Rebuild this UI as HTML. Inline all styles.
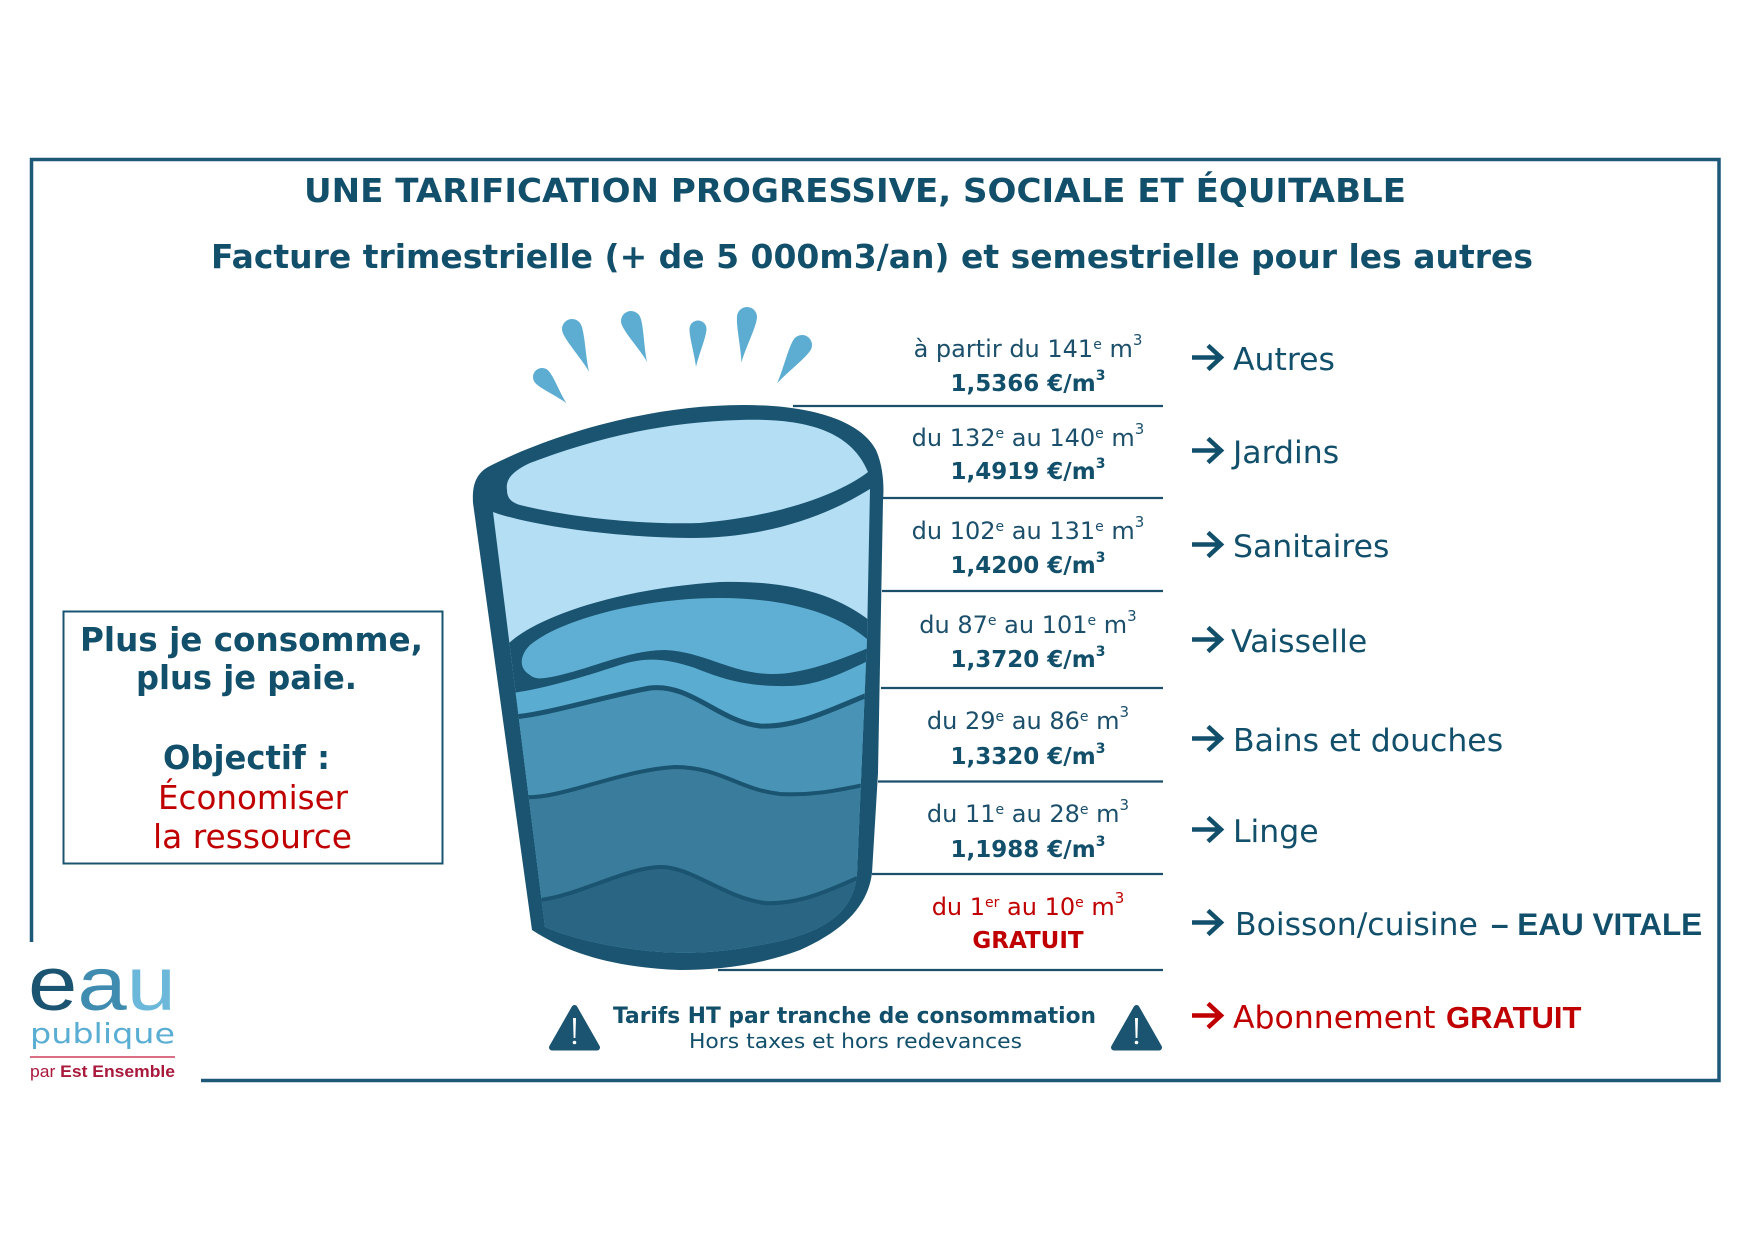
<!DOCTYPE html>
<html><head><meta charset="utf-8"><style>
html,body{margin:0;padding:0;background:#fff;}
svg{display:block;}
.t{font-family:"DejaVu Sans",sans-serif;}
.lb{font-family:"Liberation Sans",sans-serif;font-weight:bold;}
</style></head><body>
<svg width="1754" height="1240" viewBox="0 0 1754 1240" xmlns="http://www.w3.org/2000/svg">
<rect width="1754" height="1240" fill="#fff"/>
<!-- frame -->
<g stroke="#1d5878" stroke-width="3.5" fill="none">
<path d="M31.5,942 V159.5 H1719 V1080.5 H201"/>
</g>
<!-- titles -->
<text class="t" x="304" y="202" font-size="32.5" font-weight="bold" fill="#124f6b" textLength="1102" lengthAdjust="spacingAndGlyphs">UNE TARIFICATION PROGRESSIVE, SOCIALE ET ÉQUITABLE</text>
<text class="t" x="211" y="268" font-size="33" font-weight="bold" fill="#124f6b" textLength="1322" lengthAdjust="spacingAndGlyphs">Facture trimestrielle (+ de 5 000m3/an) et semestrielle pour les autres</text>

<!-- left box -->
<rect x="63.5" y="611.5" width="379" height="252" fill="none" stroke="#1b5470" stroke-width="2"/>
<g class="t" font-size="32.5">
<text x="80" y="651" font-weight="bold" fill="#124f6b" textLength="343" lengthAdjust="spacingAndGlyphs">Plus je consomme,</text>
<text x="136" y="689" font-weight="bold" fill="#124f6b" textLength="221" lengthAdjust="spacingAndGlyphs">plus je paie.</text>
<text x="163" y="769" font-weight="bold" fill="#124f6b" textLength="167" lengthAdjust="spacingAndGlyphs">Objectif :</text>
<text x="158" y="809" fill="#c00000" textLength="190" lengthAdjust="spacingAndGlyphs">Économiser</text>
<text x="153" y="848" fill="#c00000" textLength="199" lengthAdjust="spacingAndGlyphs">la ressource</text>
</g>

<!-- drops -->
<g fill="#5dadd3">
<path transform="translate(542,377) rotate(-43)" d="M0,36 C2,24 9,8 9,0 A9,9 0 0 0 -9,0 C-9,8 -2,24 0,36 Z"/>
<path transform="translate(572,329) rotate(-21.8)" d="M0,46 C2,32 10,10 10,0 A10,10 0 0 0 -10,0 C-10,10 -2,32 0,46 Z"/>
<path transform="translate(631,321) rotate(-21.5)" d="M0,44 C2,30 10,10 10,0 A10,10 0 0 0 -10,0 C-10,10 -2,30 0,44 Z"/>
<path transform="translate(698,329) rotate(3)" d="M0,38 C2,26 8.5,8 8.5,0 A8.5,8.5 0 0 0 -8.5,0 C-8.5,8 -2,26 0,38 Z"/>
<path transform="translate(747,317) rotate(7)" d="M0,46 C2,32 10,10 10,0 A10,10 0 0 0 -10,0 C-10,10 -2,32 0,46 Z"/>
<path transform="translate(802,345) rotate(33)" d="M0,46 C2,32 10,10 10,0 A10,10 0 0 0 -10,0 C-10,10 -2,32 0,46 Z"/>
</g>

<!-- glass -->
<defs>
<clipPath id="inner">
<path d="M493,512 C523,523 600,537 690,538 C760,538 820,520 870,489 L867,640 L857,873 C854,915 820,935 760,945 C720,953 680,955 640,950 C600,945 568,937 545,927 Z"/>
</clipPath>
</defs>
<path fill="#1a5470" d="M473,503 C472,485 476,474 488,467 C540,440 640,405 743,405 C810,405 860,420 876,450 C884,468 884,490 883,500 L878,773 L872,873 C868,905 845,930 800,950 C760,965 720,970 680,970 C620,968 570,955 532,930 Z"/>
<path fill="#b3def4" d="M507,490 C505,478 515,470 530,463 C590,440 660,422 740,420 C800,418 850,428 868,472 C845,490 790,515 700,523 C630,525 560,515 520,505 C510,502 507,497 507,490 Z"/>
<g clip-path="url(#inner)">
<rect x="460" y="480" width="440" height="500" fill="#b3def4"/>
<path fill="#1a5470" d="M470,670 L503,650 C520,625 600,590 720,582 C790,580 840,595 875,625 L900,625 L900,1000 L460,1000 Z"/>
<path fill="#5fafd4" d="M530,675 C518,668 520,655 530,645 C560,620 640,598 720,598 C790,598 840,615 868,640 L868,648 C840,660 800,675 770,674 C730,673 705,652 665,650 C625,650 585,672 545,678 C538,679 533,678 530,675 Z"/>
<path fill="#5aacd1" d="M470,700 L505,694 C540,690 580,678 620,665 C645,657 665,658 695,668 C720,678 745,687 790,686 C820,685 845,672 880,655 L900,655 L900,1000 L460,1000 Z"/>
<path fill="#4994b6" d="M470,720 L513,717 C545,715 610,695 650,688 C690,683 720,722 760,726 C800,728 840,705 880,690 L900,690 L900,1000 L460,1000 Z"/>
<path fill="#3a7c9b" d="M470,795 L523,797 C560,800 620,770 675,767 C720,767 740,790 780,794 C820,796 845,788 880,782 L900,782 L900,1000 L460,1000 Z"/>
<path fill="#2a6584" d="M470,900 L540,900 C580,895 625,868 660,867 C690,866 725,898 765,903 C805,905 840,885 880,868 L900,868 L900,1000 L460,1000 Z"/>
<g fill="none" stroke="#1a5470">
<path stroke-width="5" d="M470,720 L513,717 C545,715 610,695 650,688 C690,683 720,722 760,726 C800,728 840,705 880,690"/>
<path stroke-width="4" d="M470,795 L523,797 C560,800 620,770 675,767 C720,767 740,790 780,794 C820,796 845,788 880,782"/>
<path stroke-width="4" d="M470,900 L540,900 C580,895 625,868 660,867 C690,866 725,898 765,903 C805,905 840,885 880,868"/>
</g>
</g>

<!-- separators -->
<g stroke="#1b4f6b" stroke-width="2.2">
<line x1="793" y1="406" x2="1163" y2="406"/>
<line x1="882" y1="498" x2="1163" y2="498"/>
<line x1="882" y1="591" x2="1163" y2="591"/>
<line x1="881" y1="688" x2="1163" y2="688"/>
<line x1="878" y1="781.5" x2="1163" y2="781.5"/>
<line x1="872" y1="874" x2="1163" y2="874"/>
<line x1="718" y1="970" x2="1163" y2="970"/>
</g>

<!-- price column -->
<g class="t" text-anchor="middle" fill="#1b4f6b">
<text x="1028" y="357" font-size="24">à partir du 141<tspan font-size="14" dy="-8">e</tspan><tspan dy="8"> m</tspan><tspan font-size="15" dy="-12">3</tspan></text>
<text x="1028" y="391" font-size="23" font-weight="bold" fill="#124f6b">1,5366 €/m<tspan font-size="14" dy="-11">3</tspan></text>
<text x="1028" y="446" font-size="24">du 132<tspan font-size="14" dy="-8">e</tspan><tspan dy="8"> au 140</tspan><tspan font-size="14" dy="-8">e</tspan><tspan dy="8"> m</tspan><tspan font-size="15" dy="-12">3</tspan></text>
<text x="1028" y="479" font-size="23" font-weight="bold" fill="#124f6b">1,4919 €/m<tspan font-size="14" dy="-11">3</tspan></text>
<text x="1028" y="539" font-size="24">du 102<tspan font-size="14" dy="-8">e</tspan><tspan dy="8"> au 131</tspan><tspan font-size="14" dy="-8">e</tspan><tspan dy="8"> m</tspan><tspan font-size="15" dy="-12">3</tspan></text>
<text x="1028" y="573" font-size="23" font-weight="bold" fill="#124f6b">1,4200 €/m<tspan font-size="14" dy="-11">3</tspan></text>
<text x="1028" y="633" font-size="24">du 87<tspan font-size="14" dy="-8">e</tspan><tspan dy="8"> au 101</tspan><tspan font-size="14" dy="-8">e</tspan><tspan dy="8"> m</tspan><tspan font-size="15" dy="-12">3</tspan></text>
<text x="1028" y="667" font-size="23" font-weight="bold" fill="#124f6b">1,3720 €/m<tspan font-size="14" dy="-11">3</tspan></text>
<text x="1028" y="729" font-size="24">du 29<tspan font-size="14" dy="-8">e</tspan><tspan dy="8"> au 86</tspan><tspan font-size="14" dy="-8">e</tspan><tspan dy="8"> m</tspan><tspan font-size="15" dy="-12">3</tspan></text>
<text x="1028" y="764" font-size="23" font-weight="bold" fill="#124f6b">1,3320 €/m<tspan font-size="14" dy="-11">3</tspan></text>
<text x="1028" y="822" font-size="24">du 11<tspan font-size="14" dy="-8">e</tspan><tspan dy="8"> au 28</tspan><tspan font-size="14" dy="-8">e</tspan><tspan dy="8"> m</tspan><tspan font-size="15" dy="-12">3</tspan></text>
<text x="1028" y="857" font-size="23" font-weight="bold" fill="#124f6b">1,1988 €/m<tspan font-size="14" dy="-11">3</tspan></text>
<text x="1028" y="915" font-size="24" fill="#c00000">du 1<tspan font-size="14" dy="-8">er</tspan><tspan dy="8"> au 10</tspan><tspan font-size="14" dy="-8">e</tspan><tspan dy="8"> m</tspan><tspan font-size="15" dy="-12">3</tspan></text>
<text x="1028" y="948" font-size="23" font-weight="bold" fill="#c00000">GRATUIT</text>
</g>

<!-- arrows -->
<g fill="none" stroke="#124f6b" stroke-width="4.5">
<path d="M1192,357.5 H1220 M1208,345.5 L1221,357.5 L1208,369.5"/>
<path d="M1192,450.5 H1220 M1208,438.5 L1221,450.5 L1208,462.5"/>
<path d="M1192,544.5 H1220 M1208,532.5 L1221,544.5 L1208,556.5"/>
<path d="M1192,639.5 H1220 M1208,627.5 L1221,639.5 L1208,651.5"/>
<path d="M1192,738.5 H1220 M1208,726.5 L1221,738.5 L1208,750.5"/>
<path d="M1192,829.5 H1220 M1208,817.5 L1221,829.5 L1208,841.5"/>
<path d="M1192,922.5 H1220 M1208,910.5 L1221,922.5 L1208,934.5"/>
</g>
<path fill="none" stroke="#c00000" stroke-width="4.5" d="M1192,1015.5 H1220 M1208,1003.5 L1221,1015.5 L1208,1027.5"/>

<!-- right labels -->
<g class="t" font-size="31.5" fill="#124f6b">
<text x="1233" y="370">Autres</text>
<text x="1233" y="463">Jardins</text>
<text x="1233" y="557">Sanitaires</text>
<text x="1231" y="652">Vaisselle</text>
<text x="1233" y="751">Bains et douches</text>
<text x="1233" y="842">Linge</text>
<text x="1235" y="935">Boisson/cuisine</text>
<text x="1233" y="1028" fill="#c00000">Abonnement</text>
</g>
<text class="lb" x="1491" y="935" font-size="31.5" fill="#124f6b">– EAU VITALE</text>
<text class="lb" x="1446" y="1028" font-size="31" fill="#c00000">GRATUIT</text>

<!-- warning -->
<g stroke="#1a5470" stroke-width="6" stroke-linejoin="round" fill="#1a5470">
<polygon points="574.5,1008 597,1047.5 552,1047.5"/>
<polygon points="1136.5,1008 1159,1047.5 1114,1047.5"/>
</g>
<g fill="#fff">
<path d="M573,1018 h3 l-0.6,20 h-1.8 Z"/>
<circle cx="574.5" cy="1042.5" r="1.8"/>
<path d="M1135,1018 h3 l-0.6,20 h-1.8 Z"/>
<circle cx="1136.5" cy="1042.5" r="1.8"/>
</g>
<text class="t" x="613" y="1023" font-size="22" font-weight="bold" fill="#124f6b" textLength="483" lengthAdjust="spacingAndGlyphs">Tarifs HT par tranche de consommation</text>
<text class="t" x="689" y="1048" font-size="20" fill="#124f6b" textLength="333" lengthAdjust="spacingAndGlyphs">Hors taxes et hors redevances</text>

<!-- logo -->
<text x="28" y="1010" font-family="Liberation Sans, sans-serif" font-size="76" textLength="148" lengthAdjust="spacingAndGlyphs"><tspan fill="#1a5470">e</tspan><tspan fill="#3f8cb0">a</tspan><tspan fill="#6cb8da">u</tspan></text>
<text class="t" x="30" y="1043" font-size="28" fill="#5aaed3" textLength="145" lengthAdjust="spacingAndGlyphs">publique</text>
<line x1="30" y1="1057" x2="175" y2="1057" stroke="#c2183c" stroke-width="1.2"/>
<text x="30" y="1077" font-family="Liberation Sans, sans-serif" font-size="16.5" fill="#a8193c" textLength="145" lengthAdjust="spacingAndGlyphs">par <tspan font-weight="bold">Est Ensemble</tspan></text>
</svg>
</body></html>
